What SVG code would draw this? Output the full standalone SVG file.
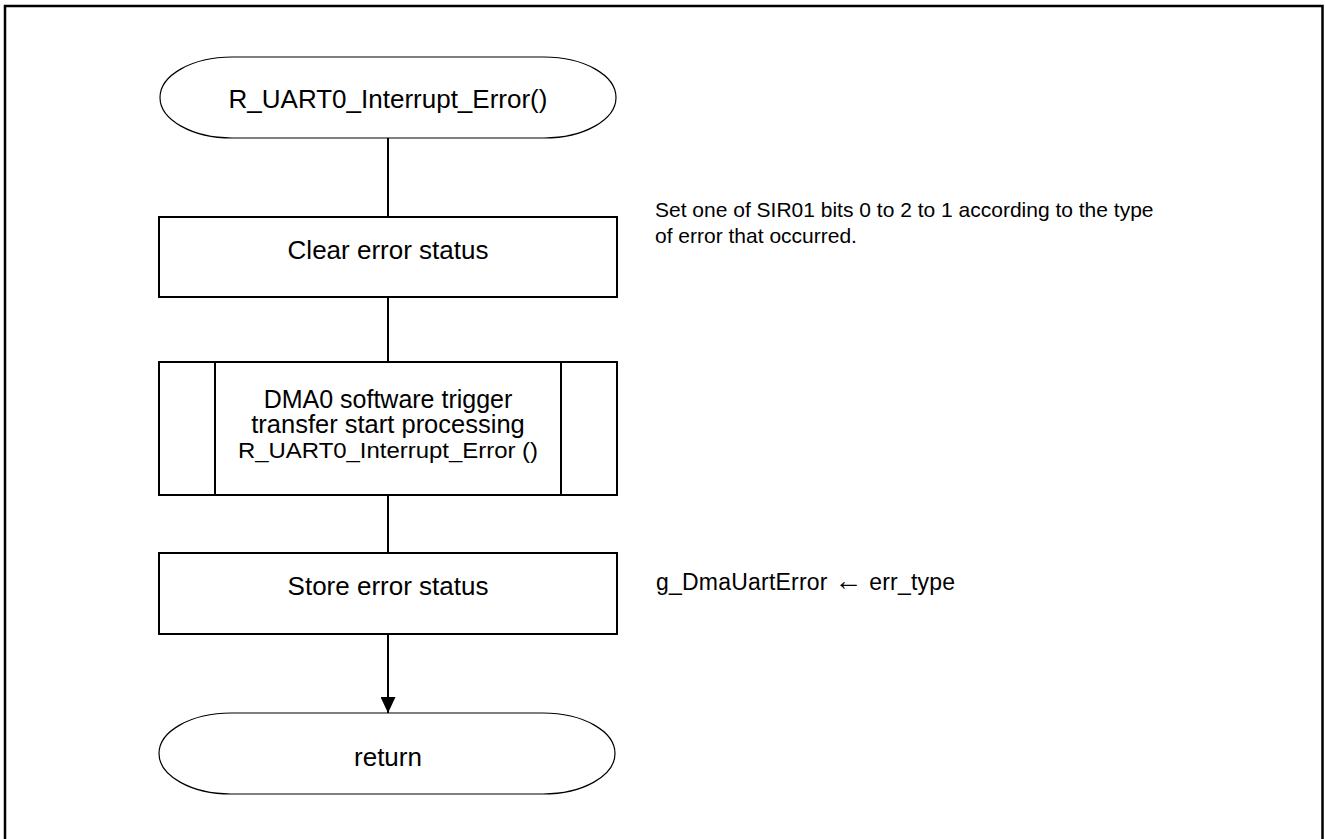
<svg xmlns="http://www.w3.org/2000/svg" width="1325" height="839" viewBox="0 0 1325 839">
<style>
.term{fill:#fff;stroke:#000;stroke-width:1.2}
.box{fill:#fff;stroke:#000;stroke-width:2}
.t{font-family:"Liberation Sans",Arial,sans-serif;font-size:26px;fill:#000;text-anchor:middle}
.n{font-family:"Liberation Sans",Arial,sans-serif;font-size:21px;fill:#000}
.c{stroke:#000;stroke-width:2;fill:none}
</style>
<defs>
<marker id="arr" markerWidth="16" markerHeight="15" refX="16" refY="7.5" orient="auto" markerUnits="userSpaceOnUse">
<path d="M0,0 L16,7.5 L0,15 Z" fill="#000"/>
</marker>
</defs>
<rect x="0" y="0" width="1325" height="839" fill="#fff"/>
<rect x="5" y="6" width="1317.5" height="900" fill="none" stroke="#000" stroke-width="2.5"/>
<g id="connectors">
<line class="c" x1="388" y1="138" x2="388" y2="217"/>
<line class="c" x1="388" y1="297" x2="388" y2="362"/>
<line class="c" x1="388" y1="495" x2="388" y2="553"/>
<line class="c" x1="388" y1="634" x2="388" y2="713" marker-end="url(#arr)"/>
</g>
<g id="start">
<rect class="term" x="160" y="57" width="456" height="81" rx="72" ry="40.5"/>
<text class="t" x="388" y="108">R_UART0_Interrupt_Error()</text>
</g>
<g id="clear">
<rect class="box" x="159" y="217" width="458" height="80"/>
<text class="t" x="388" y="259">Clear error status</text>
</g>
<g id="note1">
<text class="n" x="655" y="217">Set one of SIR01 bits 0 to 2 to 1 according to the type</text>
<text class="n" x="655" y="243">of error that occurred.</text>
</g>
<g id="dma">
<rect class="box" x="159" y="362" width="458" height="133"/>
<line class="box" x1="215" y1="362" x2="215" y2="495"/>
<line class="box" x1="561" y1="362" x2="561" y2="495"/>
<text class="t" x="388" y="408" style="font-size:25px">DMA0 software trigger</text>
<text class="t" x="388" y="433" style="font-size:25.5px">transfer start processing</text>
<text class="t" x="388" y="458" style="font-size:22.5px" textLength="300" lengthAdjust="spacingAndGlyphs">R_UART0_Interrupt_Error ()</text>
</g>
<g id="store">
<rect class="box" x="159" y="553" width="458" height="81"/>
<text class="t" x="388" y="595">Store error status</text>
</g>
<g id="note2">
<text class="n" x="656" y="590" style="font-size:23px" textLength="299" lengthAdjust="spacing">g_DmaUartError <tspan style="font-size:28px">←</tspan> err_type</text>
</g>
<g id="end">
<rect class="term" x="159" y="713" width="456" height="81" rx="72" ry="40.5"/>
<text class="t" x="388" y="766">return</text>
</g>
</svg>
